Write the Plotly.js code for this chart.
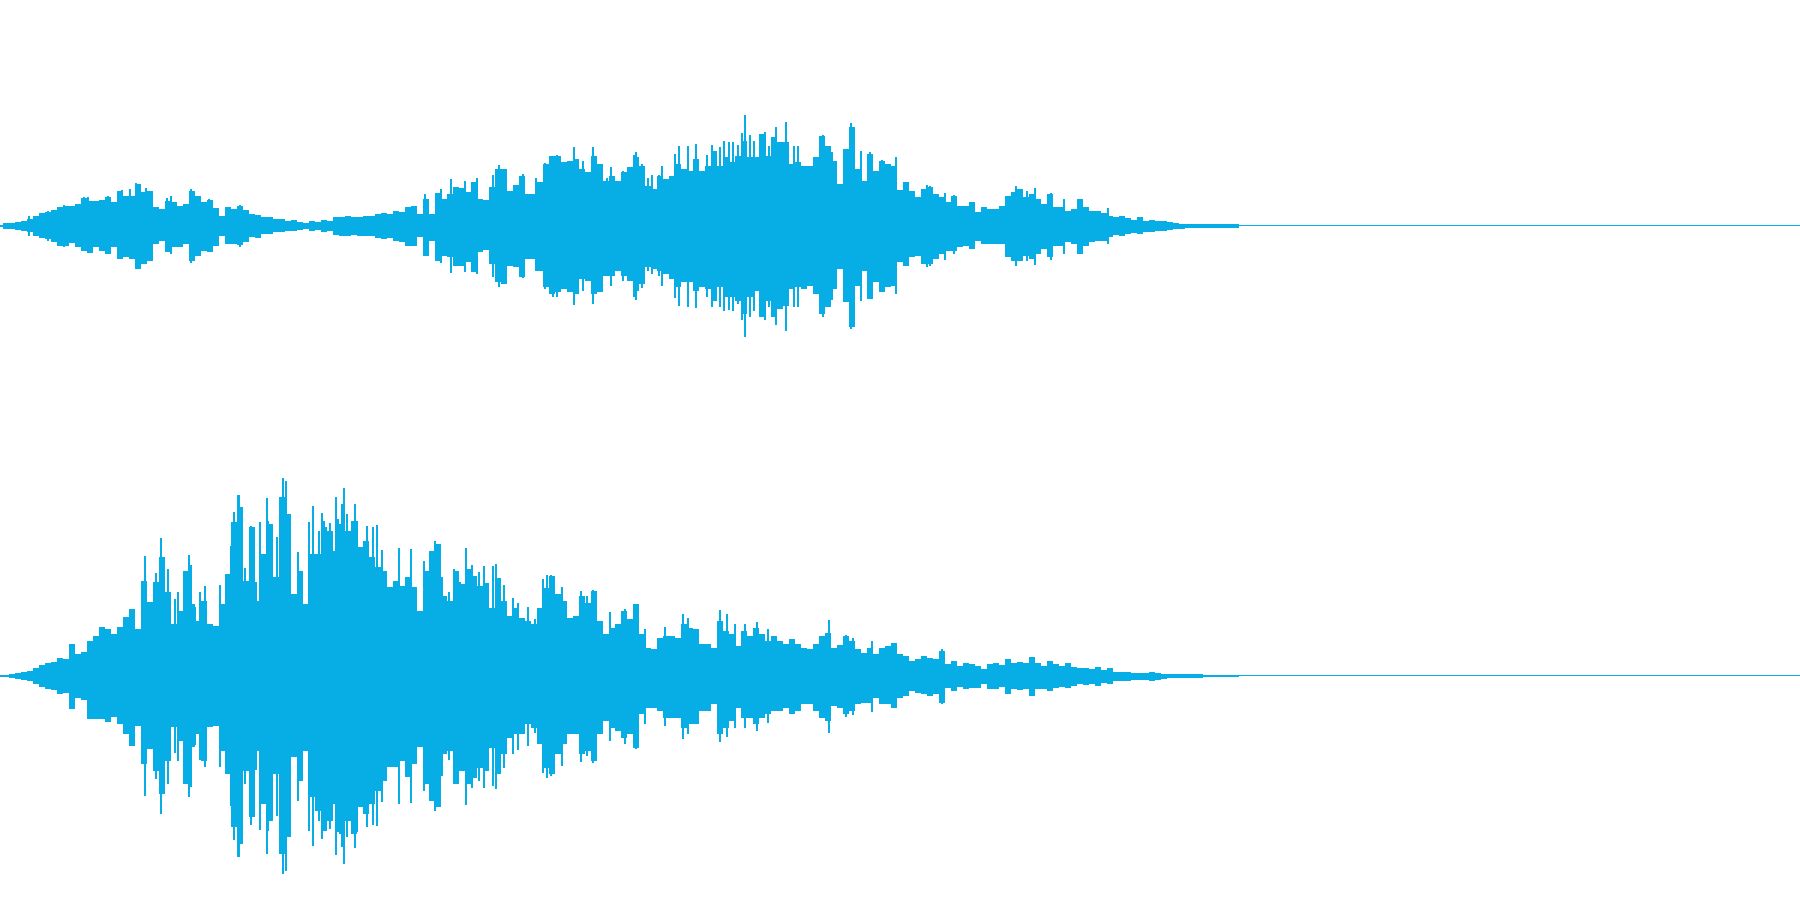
<!DOCTYPE html>
<html><head><meta charset="utf-8">
<script src="https://cdn.plot.ly/plotly-3.0.1.min.js"></script>
<style>html,body{margin:0;padding:0;background:#fff}#c{width:1800px;height:900px}</style>
</head><body><div id="c"></div>
<script>
const WAVE_COLOR = '#07aee6';
const columnStep = 6;
const timeEnd = 1800;

const ch1Top = [1,3,3,4,5,7,10,13,14,16,19,20,20,22,28,25,25,26,29,24,35,30,30,42,34,35,19,17,25,24,20,22,35,30,24,26,18,10,19,17,20,16,12,11,9,9,7,7,5,6,4,3,5,4,6,5,9,9,10,9,9,10,10,12,13,12,15,14,19,20,12,27,12,33,27,32,
39,38,34,44,27,26,39,57,57,35,41,50,32,32,44,62,70,70,64,65,67,57,54,70,62,45,50,45,54,59,69,60,40,37,50,47,50,62,57,55,67,55,60,75,60,69,64,70,85,69,69,92,70,89,84,84,62,64,60,60,69,90,80,65,42,77,99,57,45,72,55,65,62,60,36,
44,35,29,37,39,32,29,24,30,20,20,24,14,19,17,17,20,30,34,37,29,32,27,22,32,19,19,15,17,27,19,15,15,13,10,9,10,8,6,9,5,6,5,5,4,3,2,2,2,2,2,2,2,2,2,2];
const ch1Bot = [1,3,3,4,5,6,10,12,13,16,20,20,17,21,25,27,21,25,28,21,33,31,33,43,38,35,18,15,26,21,21,18,35,30,25,26,20,10,18,18,19,16,11,12,8,8,6,6,5,5,4,3,5,4,6,5,9,10,10,9,10,10,10,12,13,12,15,16,20,20,11,30,15,35,30,31,
40,40,36,46,26,24,38,56,58,40,41,51,33,33,45,61,68,66,63,66,68,53,55,68,66,50,50,45,50,55,65,58,41,43,45,48,53,61,56,56,65,61,63,75,61,71,71,75,88,71,65,91,75,91,83,80,63,61,63,60,68,88,81,63,43,76,101,60,45,73,56,66,61,60,36,
40,31,30,38,38,33,28,25,25,21,20,23,15,18,18,18,18,31,35,35,30,33,28,23,31,20,20,16,18,28,20,16,15,15,11,9,10,8,7,8,6,6,5,5,4,3,3,2,2,2,2,2,2,2,2,2];

const ch2Top = [1,1,2,3,4,5,8,11,13,14,18,17,32,22,24,35,40,49,47,42,49,59,67,47,95,74,94,119,84,52,65,105,72,55,75,52,50,72,102,154,169,95,149,75,122,152,99,179,162,82,105,72,122,122,149,145,125,152,145,155,129,135,119,109,105,89,95,90,99,89,65,105,125,132,80,75,
105,92,107,100,90,93,68,98,75,60,68,58,55,52,68,88,100,82,75,58,60,80,73,85,55,42,48,52,65,57,72,42,28,27,38,40,40,38,52,48,47,32,32,28,55,45,42,30,45,40,48,42,35,40,35,32,37,32,28,27,32,40,43,28,31,40,35,27,23,28,22,28,30,33,22,
20,15,17,20,18,17,25,12,15,10,13,12,10,7,12,13,11,17,13,14,13,19,13,10,15,12,10,13,9,8,8,7,9,6,8,4,4,4,3,3,3,4,3,2,2,2,2,2,2,2,1,1,1,1,1,1];
const ch2Bot = [1,1,2,3,4,5,8,11,13,14,18,17,33,22,24,43,43,43,46,41,48,58,70,50,88,73,95,118,85,51,65,108,71,58,85,51,50,75,98,151,168,95,141,75,128,145,98,178,161,81,105,75,121,135,155,145,128,158,145,158,131,138,128,115,105,91,91,85,101,88,71,108,125,131,78,75,
108,95,108,102,92,95,72,98,78,62,58,58,48,52,68,92,98,78,68,58,58,78,75,85,58,45,52,55,62,58,72,38,32,32,35,42,42,42,52,48,48,35,35,28,58,52,45,32,42,42,48,42,38,35,35,32,38,35,28,28,35,42,45,30,32,38,35,28,27,27,22,28,28,32,22,
20,15,17,18,20,18,27,12,15,11,13,12,12,8,13,13,11,18,13,14,13,20,13,13,15,12,11,12,10,8,9,8,10,7,8,5,5,5,4,4,4,5,4,3,2,2,2,2,2,2,1,1,1,1,1,1];

const ch1SpikeT = [29,48,64,84,88,108,122,130,136,146,167,171,191,209,240,425,441,451,465,477,493,499,523,536,545,553,557,574,583,593,607,611,623,629,634,636,642,648,652,659,662,675,679,688,696,707,712,720,724,729,733,738,742,745,750,754,765,769,772,776,786,794,798,823,832,851,861,870,882,896,927,930,945,954,1016,1027,1035,1051,1064,1080,1108];
const ch1SpikeUp = [10,15,21,29,29,30,36,37,43,38,28,30,37,27,21,32,37,47,45,48,51,61,52,48,63,70,71,79,65,79,48,59,55,59,71,74,62,48,51,51,60,72,80,80,82,71,81,79,85,84,84,81,93,111,91,85,94,80,81,99,104,80,80,91,74,103,75,74,66,69,41,40,33,31,40,35,38,33,27,27,18];
const ch1SpikeDown = [10,15,21,25,25,28,33,33,43,38,26,28,37,26,21,30,37,47,46,48,51,61,52,45,63,71,71,79,65,78,45,60,55,55,71,74,62,45,48,50,60,72,80,81,82,71,81,81,85,84,85,78,94,111,91,85,94,81,81,99,105,81,81,91,74,103,75,73,66,68,41,40,34,28,40,35,39,34,28,28,18];

const ch2SpikeT = [145,156,161,168,175,178,189,191,195,200,205,220,231,234,238,239,242,245,251,256,260,267,268,277,283,286,289,298,309,313,319,322,324,330,336,338,342,344,347,355,357,367,373,377,382,399,411,424,435,442,449,454,460,466,472,479,484,488,493,496,504,513,518,528,535,543,547,551,562,581,587,593,595,610,625,630,636,645,665,683,688,720,727,735,745,757,768,829,846,853,872,942];
const ch2SpikeUp = [120,103,138,107,77,84,121,111,69,84,90,91,130,164,181,181,145,108,150,94,154,178,155,139,198,195,162,124,154,170,145,163,155,153,179,157,172,188,162,172,155,150,149,151,126,128,127,115,135,99,84,107,94,128,111,104,110,87,110,112,91,78,73,69,57,97,101,101,89,85,80,86,84,64,67,57,72,47,49,62,58,66,62,52,52,54,47,56,41,38,35,27];
const ch2SpikeDown = [120,103,138,108,77,85,121,111,69,84,91,91,130,164,181,181,145,108,149,94,154,178,155,140,198,195,161,125,155,170,145,163,155,153,179,156,171,188,161,172,156,151,149,150,126,128,127,115,135,100,84,108,94,129,112,105,112,87,110,113,92,78,74,70,57,97,102,100,90,86,80,87,84,65,68,57,73,48,50,63,58,66,61,52,52,55,47,57,41,39,36,28];

const columns = ch1Top.map((_, i) => i * columnStep);

function envelope(top, bot, xa, ya) {
  return {type:'bar', x:columns, y:top.map((v,i)=>v+bot[i]), base:bot.map(v=>-v), width:columnStep,
    marker:{color:WAVE_COLOR, line:{width:0}}, xaxis:xa, yaxis:ya, hoverinfo:'skip', showlegend:false};
}
function spikes(t, up, down, xa, ya) {
  return {type:'bar', x:t, y:up.map((v,i)=>v+down[i]), base:down.map(v=>-v), width:1.3,
    marker:{color:WAVE_COLOR, line:{width:0}}, xaxis:xa, yaxis:ya, hoverinfo:'skip', showlegend:false};
}
function baseline(xa, ya) {
  return {type:'scatter', mode:'lines', x:[0,timeEnd], y:[0,0], line:{color:WAVE_COLOR,width:1},
    xaxis:xa, yaxis:ya, hoverinfo:'skip', showlegend:false};
}
const hidden = {visible:false, fixedrange:true};
const yRange = [-224.5,225.5];
Plotly.newPlot('c', [
  baseline('x','y'), envelope(ch1Top,ch1Bot,'x','y'), spikes(ch1SpikeT,ch1SpikeUp,ch1SpikeDown,'x','y'),
  baseline('x2','y2'), envelope(ch2Top,ch2Bot,'x2','y2'), spikes(ch2SpikeT,ch2SpikeUp,ch2SpikeDown,'x2','y2')
], {
  width:1800, height:900, margin:{l:0,r:0,t:0,b:0}, paper_bgcolor:'#fff', plot_bgcolor:'#fff',
  barmode:'overlay', bargap:0, showlegend:false,
  xaxis:{...hidden, range:[0,timeEnd], domain:[0,1], anchor:'y'},
  yaxis:{...hidden, range:yRange, domain:[0.5,1], anchor:'x'},
  xaxis2:{...hidden, range:[0,timeEnd], domain:[0,1], anchor:'y2'},
  yaxis2:{...hidden, range:yRange, domain:[0,0.5], anchor:'x2'}
}, {displayModeBar:false, staticPlot:true});
</script></body></html>
